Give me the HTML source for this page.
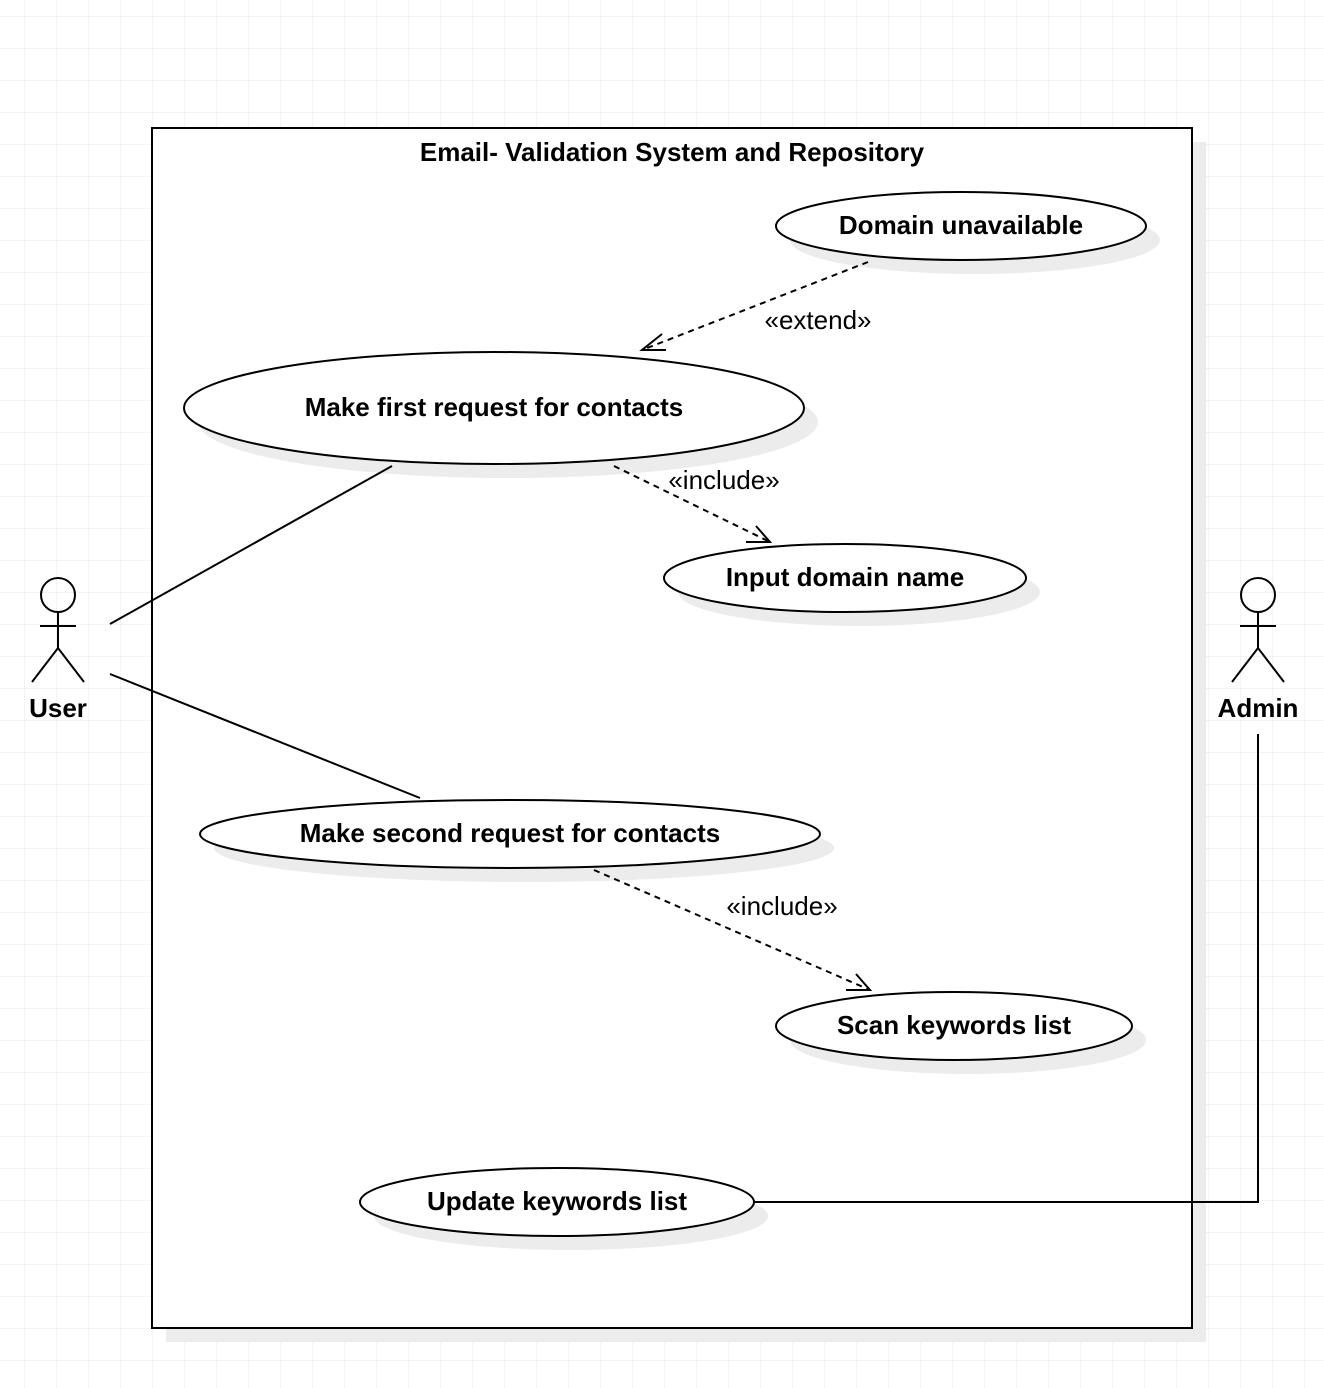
<!DOCTYPE html>
<html><head><meta charset="utf-8"><style>
html,body{margin:0;padding:0;background:#fff}
svg{display:block}
text{font-family:"Liberation Sans",Arial,sans-serif;}
</style></head><body>
<svg width="1324" height="1388" viewBox="0 0 1324 1388" xmlns="http://www.w3.org/2000/svg">
<defs>
<pattern id="g" x="24" y="16" width="32" height="32" patternUnits="userSpaceOnUse">
<path d="M0 0H32M0 0V32" stroke="#efefef" stroke-width="1.5" fill="none"/>
</pattern>
</defs>
<rect width="1324" height="1388" fill="#fff"/>
<rect width="1324" height="1388" fill="url(#g)"/>
<rect x="166" y="142" width="1040" height="1200" fill="#ececec"/>
<rect x="152" y="128" width="1040" height="1200" fill="#fff" stroke="#000" stroke-width="2"/>
<g fill="#ececec">
<ellipse cx="975" cy="240" rx="185" ry="34"/>
<ellipse cx="508" cy="422" rx="310" ry="56"/>
<ellipse cx="859" cy="592" rx="181" ry="34"/>
<ellipse cx="524" cy="848" rx="310" ry="34"/>
<ellipse cx="968" cy="1040" rx="178" ry="34"/>
<ellipse cx="571" cy="1216" rx="197" ry="34"/>
</g>
<g fill="#fff" stroke="#000" stroke-width="2">
<ellipse cx="961" cy="226" rx="185" ry="34"/>
<ellipse cx="494" cy="408" rx="310" ry="56"/>
<ellipse cx="845" cy="578" rx="181" ry="34"/>
<ellipse cx="510" cy="834" rx="310" ry="34"/>
<ellipse cx="954" cy="1026" rx="178" ry="34"/>
<ellipse cx="557" cy="1202" rx="197" ry="34"/>
</g>
<g font-weight="bold" font-size="26" text-anchor="middle">
<text x="672" y="161">Email- Validation System and Repository</text>
<text x="961" y="234">Domain unavailable</text>
<text x="494" y="416">Make first request for contacts</text>
<text x="845" y="586">Input domain name</text>
<text x="510" y="842">Make second request for contacts</text>
<text x="954" y="1034">Scan keywords list</text>
<text x="557" y="1210">Update keywords list</text>
<text x="58" y="717">User</text>
<text x="1258" y="717">Admin</text>
</g>
<g font-size="26" text-anchor="middle">
<text x="818" y="329">«extend»</text>
<text x="724" y="489">«include»</text>
<text x="782" y="915">«include»</text>
</g>
<g stroke="#000" stroke-width="2" fill="none">
<line x1="868" y1="262" x2="642" y2="350" stroke-dasharray="6,5"/>
<polyline points="662,334 642,350 666,350"/>
<line x1="614" y1="466" x2="770" y2="542" stroke-dasharray="6,5"/>
<polyline points="746,542 770,542 756,526"/>
<line x1="594" y1="870" x2="870" y2="990" stroke-dasharray="6,5"/>
<polyline points="846,990 870,990 856,974"/>
<line x1="110" y1="624" x2="392" y2="466"/>
<line x1="110" y1="674" x2="420" y2="798"/>
<polyline points="754,1202 1258,1202 1258,734"/>
<circle cx="58" cy="595" r="17"/>
<line x1="58" y1="612" x2="58" y2="648"/>
<line x1="40" y1="626" x2="76" y2="626"/>
<polyline points="32,682 58,648 84,682"/>
<circle cx="1258" cy="595" r="17"/>
<line x1="1258" y1="612" x2="1258" y2="648"/>
<line x1="1240" y1="626" x2="1276" y2="626"/>
<polyline points="1232,682 1258,648 1284,682"/>
</g>
</svg>
</body></html>
